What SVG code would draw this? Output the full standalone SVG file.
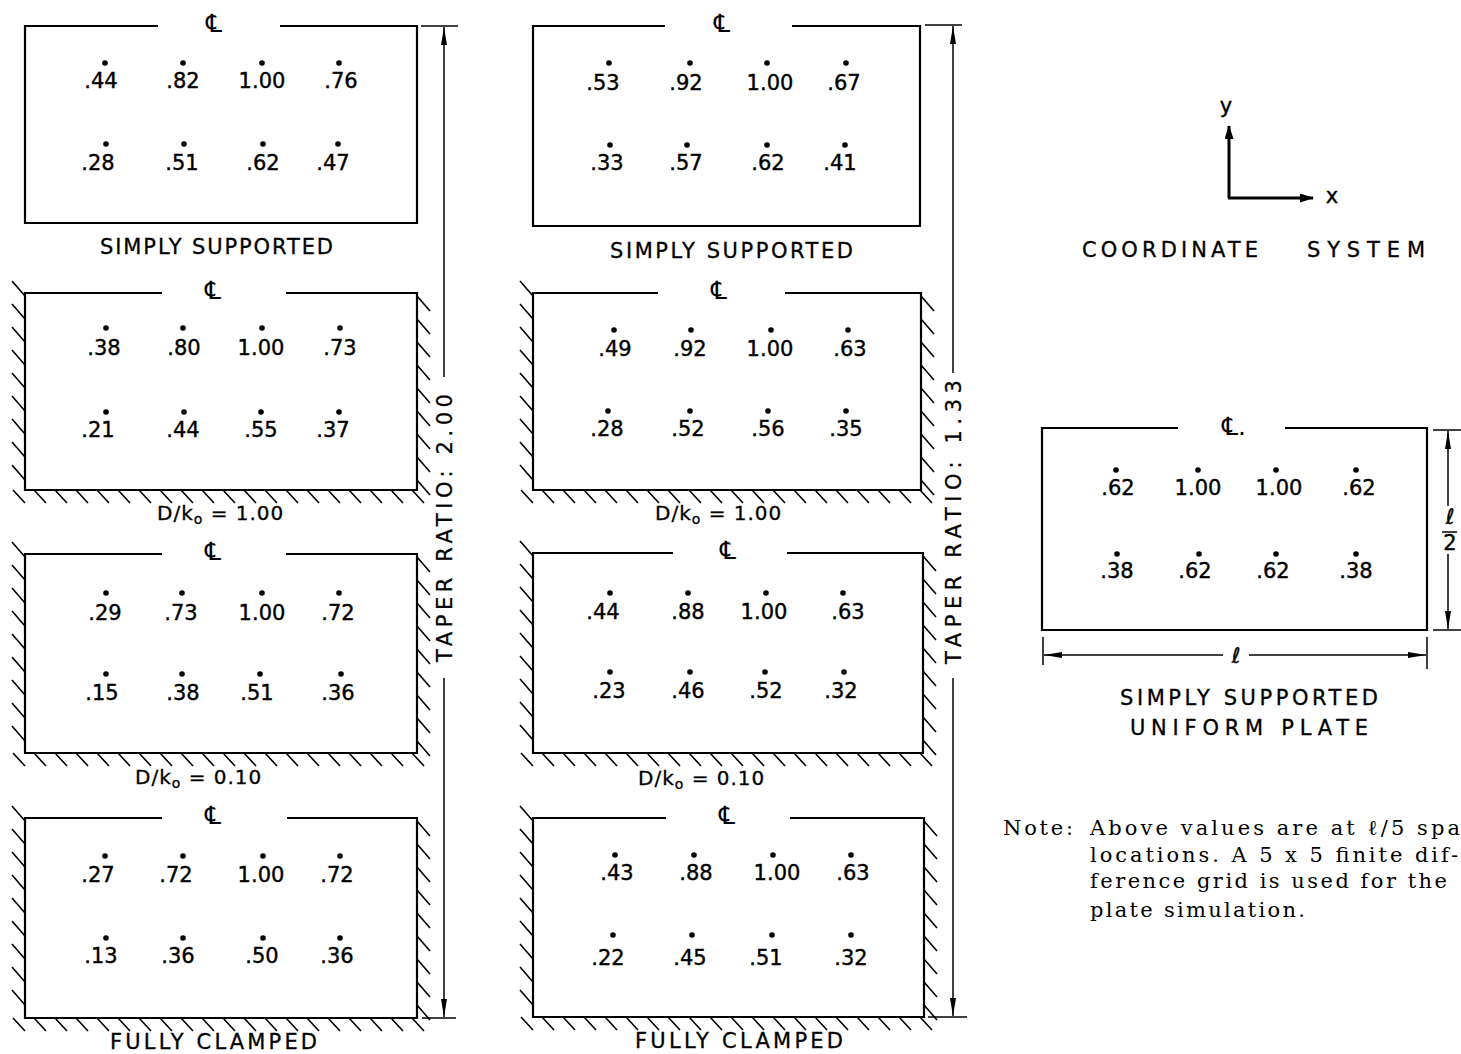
<svg xmlns="http://www.w3.org/2000/svg" xmlns:xlink="http://www.w3.org/1999/xlink" width="1461" height="1054" viewBox="0 0 1461 1054">
<style>
.fr{fill:none;stroke:#000;stroke-width:2.2;stroke-linejoin:miter}
.h{fill:none;stroke:#000;stroke-width:1.6}
.dim{fill:none;stroke:#000;stroke-width:1.5}
.ax{fill:none;stroke:#000;stroke-width:3}
.v{font-family:"DejaVu Sans","Liberation Sans",sans-serif;font-size:21px;text-anchor:middle;fill:#000;stroke:#000;stroke-width:0.4}
.cl{font-family:"DejaVu Sans","Noto Sans",sans-serif;font-size:25px;text-anchor:middle;fill:#000}
.lab{font-family:"DejaVu Sans","Liberation Sans",sans-serif;font-size:21px;fill:#000;stroke:#000;stroke-width:0.3}
.dk{font-family:"DejaVu Sans","Liberation Sans",sans-serif;font-size:20px;letter-spacing:1px;fill:#000;stroke:#000;stroke-width:0.3}
.note{font-family:"DejaVu Serif","Liberation Serif",serif;font-size:21px;fill:#000}
.d{fill:#000}
</style>
<defs>
<path id="hv" d="M0,0l13,15m-13,8l13,15m-13,8l13,15m-13,8l13,15m-13,8l13,15m-13,8l13,15m-13,8l13,15m-13,8l13,15m-13,8l13,15"/>
<path id="hb" d="M0,0l12,13m9,-13l12,13m9,-13l12,13m9,-13l12,13m9,-13l12,13m9,-13l12,13m9,-13l12,13m9,-13l12,13m9,-13l12,13m9,-13l12,13m9,-13l12,13m9,-13l12,13m9,-13l12,13m9,-13l12,13m9,-13l12,13m9,-13l12,13m9,-13l12,13m9,-13l12,13m9,-13l12,13m9,-13l12,13"/>
<marker id="ar" viewBox="0 0 18 6" refX="18" refY="3" markerWidth="18" markerHeight="6" markerUnits="userSpaceOnUse" orient="auto-start-reverse">
<path d="M0,0L18,3L0,6z" fill="#000"/>
</marker>
<marker id="ax" viewBox="0 0 14 9" refX="13" refY="4.5" markerWidth="14" markerHeight="9" markerUnits="userSpaceOnUse" orient="auto">
<path d="M0,0L14,4.5L0,9z" fill="#000"/>
</marker>
</defs>
<rect width="1461" height="1054" fill="#fff"/>

<!-- Column 1 -->
<g id="c1-p1">
<path class="fr" d="M158,26H25V223H417V26H280"/>
<text class="cl" x="214" y="32">℄</text>
<circle class="d" cx="105" cy="63" r="2.8"/><circle class="d" cx="183" cy="63" r="2.8"/><circle class="d" cx="262" cy="63" r="2.8"/><circle class="d" cx="339" cy="63" r="2.8"/>
<text class="v" x="101" y="88">.44</text><text class="v" x="183" y="88">.82</text><text class="v" x="262" y="88">1.00</text><text class="v" x="341" y="88">.76</text>
<circle class="d" cx="106" cy="144" r="2.8"/><circle class="d" cx="184" cy="144" r="2.8"/><circle class="d" cx="263" cy="144" r="2.8"/><circle class="d" cx="338" cy="144" r="2.8"/>
<text class="v" x="98" y="170">.28</text><text class="v" x="182" y="170">.51</text><text class="v" x="263" y="170">.62</text><text class="v" x="333" y="170">.47</text>
<text class="lab" x="100" y="254" textLength="233" lengthAdjust="spacing">SIMPLY SUPPORTED</text>
</g>

<g id="c1-p2">
<path class="fr" d="M162,293H25V490H417V293H286"/>
<use xlink:href="#hv" href="#hv" x="12" y="281" class="h"/>
<use xlink:href="#hv" href="#hv" x="417" y="296" class="h"/>
<use xlink:href="#hb" href="#hb" x="13" y="490" class="h"/>
<text class="cl" x="213" y="299">℄</text>
<circle class="d" cx="106" cy="328" r="2.8"/><circle class="d" cx="183" cy="328" r="2.8"/><circle class="d" cx="262" cy="328" r="2.8"/><circle class="d" cx="340" cy="328" r="2.8"/>
<text class="v" x="104" y="355">.38</text><text class="v" x="184" y="355">.80</text><text class="v" x="261" y="355">1.00</text><text class="v" x="340" y="355">.73</text>
<circle class="d" cx="106" cy="412" r="2.8"/><circle class="d" cx="184" cy="412" r="2.8"/><circle class="d" cx="261" cy="412" r="2.8"/><circle class="d" cx="339" cy="412" r="2.8"/>
<text class="v" x="98" y="437">.21</text><text class="v" x="183" y="437">.44</text><text class="v" x="261" y="437">.55</text><text class="v" x="333" y="437">.37</text>
<text class="dk" x="157" y="520">D/k<tspan dy="4" font-size="14">o</tspan><tspan dy="-4"> = 1.00</tspan></text>
</g>

<g id="c1-p3">
<path class="fr" d="M162,554H25V753H417V554H286"/>
<use xlink:href="#hv" href="#hv" x="12" y="542" class="h"/>
<use xlink:href="#hv" href="#hv" x="417" y="557" class="h"/>
<use xlink:href="#hb" href="#hb" x="13" y="753" class="h"/>
<text class="cl" x="213" y="560">℄</text>
<circle class="d" cx="106" cy="593" r="2.8"/><circle class="d" cx="182" cy="593" r="2.8"/><circle class="d" cx="262" cy="593" r="2.8"/><circle class="d" cx="339" cy="593" r="2.8"/>
<text class="v" x="105" y="620">.29</text><text class="v" x="181" y="620">.73</text><text class="v" x="262" y="620">1.00</text><text class="v" x="338" y="620">.72</text>
<circle class="d" cx="106" cy="674" r="2.8"/><circle class="d" cx="182" cy="674" r="2.8"/><circle class="d" cx="260" cy="674" r="2.8"/><circle class="d" cx="341" cy="674" r="2.8"/>
<text class="v" x="102" y="700">.15</text><text class="v" x="183" y="700">.38</text><text class="v" x="257" y="700">.51</text><text class="v" x="338" y="700">.36</text>
<text class="dk" x="135" y="784">D/k<tspan dy="4" font-size="14">o</tspan><tspan dy="-4"> = 0.10</tspan></text>
</g>

<g id="c1-p4">
<path class="fr" d="M162,818H25V1018H417V818H287"/>
<use xlink:href="#hv" href="#hv" x="12" y="806" class="h"/>
<use xlink:href="#hv" href="#hv" x="417" y="821" class="h"/>
<use xlink:href="#hb" href="#hb" x="13" y="1018" class="h"/>
<text class="cl" x="213" y="824">℄</text>
<circle class="d" cx="105" cy="856" r="2.8"/><circle class="d" cx="183" cy="856" r="2.8"/><circle class="d" cx="263" cy="856" r="2.8"/><circle class="d" cx="340" cy="856" r="2.8"/>
<text class="v" x="98" y="882">.27</text><text class="v" x="176" y="882">.72</text><text class="v" x="261" y="882">1.00</text><text class="v" x="337" y="882">.72</text>
<circle class="d" cx="106" cy="938" r="2.8"/><circle class="d" cx="183" cy="938" r="2.8"/><circle class="d" cx="263" cy="938" r="2.8"/><circle class="d" cx="340" cy="938" r="2.8"/>
<text class="v" x="101" y="963">.13</text><text class="v" x="178" y="963">.36</text><text class="v" x="262" y="963">.50</text><text class="v" x="337" y="963">.36</text>
<text class="lab" x="110" y="1049" textLength="207" lengthAdjust="spacing">FULLY CLAMPED</text>
</g>

<!-- Column 2 -->
<g id="c2-p1">
<path class="fr" d="M665,26H533V226H920V26H792"/>
<text class="cl" x="722" y="32">℄</text>
<circle class="d" cx="609" cy="63" r="2.8"/><circle class="d" cx="690" cy="63" r="2.8"/><circle class="d" cx="767" cy="63" r="2.8"/><circle class="d" cx="846" cy="63" r="2.8"/>
<text class="v" x="603" y="90">.53</text><text class="v" x="686" y="90">.92</text><text class="v" x="770" y="90">1.00</text><text class="v" x="844" y="90">.67</text>
<circle class="d" cx="610" cy="145" r="2.8"/><circle class="d" cx="687" cy="145" r="2.8"/><circle class="d" cx="767" cy="145" r="2.8"/><circle class="d" cx="845" cy="145" r="2.8"/>
<text class="v" x="607" y="170">.33</text><text class="v" x="686" y="170">.57</text><text class="v" x="768" y="170">.62</text><text class="v" x="840" y="170">.41</text>
<text class="lab" x="610" y="258" textLength="243" lengthAdjust="spacing">SIMPLY SUPPORTED</text>
</g>

<g id="c2-p2">
<path class="fr" d="M658,293H533V490H921V293H785"/>
<use xlink:href="#hv" href="#hv" x="520" y="281" class="h"/>
<use xlink:href="#hv" href="#hv" x="921" y="296" class="h"/>
<use xlink:href="#hb" href="#hb" x="521" y="490" class="h"/>
<text class="cl" x="719" y="299">℄</text>
<circle class="d" cx="614" cy="330" r="2.8"/><circle class="d" cx="691" cy="330" r="2.8"/><circle class="d" cx="771" cy="330" r="2.8"/><circle class="d" cx="848" cy="330" r="2.8"/>
<text class="v" x="615" y="356">.49</text><text class="v" x="690" y="356">.92</text><text class="v" x="770" y="356">1.00</text><text class="v" x="850" y="356">.63</text>
<circle class="d" cx="608" cy="411" r="2.8"/><circle class="d" cx="690" cy="411" r="2.8"/><circle class="d" cx="768" cy="411" r="2.8"/><circle class="d" cx="846" cy="411" r="2.8"/>
<text class="v" x="607" y="436">.28</text><text class="v" x="688" y="436">.52</text><text class="v" x="768" y="436">.56</text><text class="v" x="846" y="436">.35</text>
<text class="dk" x="655" y="520">D/k<tspan dy="4" font-size="14">o</tspan><tspan dy="-4"> = 1.00</tspan></text>
</g>

<g id="c2-p3">
<path class="fr" d="M673,553H533V753H923V553H787"/>
<use xlink:href="#hv" href="#hv" x="520" y="541" class="h"/>
<use xlink:href="#hv" href="#hv" x="923" y="556" class="h"/>
<use xlink:href="#hb" href="#hb" x="521" y="753" class="h"/>
<text class="cl" x="728" y="559">℄</text>
<circle class="d" cx="610" cy="593" r="2.8"/><circle class="d" cx="688" cy="593" r="2.8"/><circle class="d" cx="766" cy="593" r="2.8"/><circle class="d" cx="843" cy="593" r="2.8"/>
<text class="v" x="603" y="619">.44</text><text class="v" x="688" y="619">.88</text><text class="v" x="764" y="619">1.00</text><text class="v" x="848" y="619">.63</text>
<circle class="d" cx="610" cy="672" r="2.8"/><circle class="d" cx="690" cy="672" r="2.8"/><circle class="d" cx="765" cy="672" r="2.8"/><circle class="d" cx="844" cy="672" r="2.8"/>
<text class="v" x="609" y="698">.23</text><text class="v" x="688" y="698">.46</text><text class="v" x="766" y="698">.52</text><text class="v" x="841" y="698">.32</text>
<text class="dk" x="638" y="785">D/k<tspan dy="4" font-size="14">o</tspan><tspan dy="-4"> = 0.10</tspan></text>
</g>

<g id="c2-p4">
<path class="fr" d="M666,818H533V1017H924V818H790"/>
<use xlink:href="#hv" href="#hv" x="520" y="806" class="h"/>
<use xlink:href="#hv" href="#hv" x="924" y="821" class="h"/>
<use xlink:href="#hb" href="#hb" x="521" y="1017" class="h"/>
<text class="cl" x="727" y="824">℄</text>
<circle class="d" cx="615" cy="855" r="2.8"/><circle class="d" cx="694" cy="855" r="2.8"/><circle class="d" cx="773" cy="855" r="2.8"/><circle class="d" cx="851" cy="855" r="2.8"/>
<text class="v" x="617" y="880">.43</text><text class="v" x="696" y="880">.88</text><text class="v" x="777" y="880">1.00</text><text class="v" x="853" y="880">.63</text>
<circle class="d" cx="613" cy="935" r="2.8"/><circle class="d" cx="692" cy="935" r="2.8"/><circle class="d" cx="772" cy="935" r="2.8"/><circle class="d" cx="851" cy="935" r="2.8"/>
<text class="v" x="608" y="965">.22</text><text class="v" x="690" y="965">.45</text><text class="v" x="766" y="965">.51</text><text class="v" x="851" y="965">.32</text>
<text class="lab" x="635" y="1048" textLength="208" lengthAdjust="spacing">FULLY CLAMPED</text>
</g>

<!-- Taper ratio labels -->
<g id="taper1">
<text class="lab" font-size="22" transform="translate(452,662) rotate(-90)" textLength="268" lengthAdjust="spacing">TAPER RATIO: 2.00</text>
</g>
<g id="taper2">
<text class="lab" font-size="22" transform="translate(961,664) rotate(-90)" textLength="284" lengthAdjust="spacing">TAPER RATIO: 1.33</text>
</g>

<!-- Coordinate system -->
<g id="coords">
<text class="v" x="1226" y="113">y</text>
<text class="v" x="1332" y="203">x</text>
<text class="lab" font-size="22" y="257"><tspan x="1082" textLength="176" lengthAdjust="spacing">COORDINATE</tspan><tspan x="1307" textLength="118" lengthAdjust="spacing">SYSTEM</tspan></text>
</g>

<!-- Uniform plate -->
<g id="uniform-plate">
<path class="fr" d="M1178,428H1042V630H1427V428H1285"/>
<text class="cl" x="1222" y="435" style="text-anchor:start">℄.</text>
<circle class="d" cx="1116" cy="470" r="2.8"/><circle class="d" cx="1198" cy="470" r="2.8"/><circle class="d" cx="1276" cy="470" r="2.8"/><circle class="d" cx="1356" cy="470" r="2.8"/>
<text class="v" x="1118" y="495">.62</text><text class="v" x="1198" y="495">1.00</text><text class="v" x="1279" y="495">1.00</text><text class="v" x="1359" y="495">.62</text>
<circle class="d" cx="1117" cy="554" r="2.8"/><circle class="d" cx="1199" cy="554" r="2.8"/><circle class="d" cx="1276" cy="554" r="2.8"/><circle class="d" cx="1356" cy="554" r="2.8"/>
<text class="v" x="1117" y="578">.38</text><text class="v" x="1195" y="578">.62</text><text class="v" x="1273" y="578">.62</text><text class="v" x="1356" y="578">.38</text>
<text class="v" x="1450" y="524" font-size="17">ℓ</text>
<line class="dim" x1="1442" y1="532" x2="1457" y2="532"/>
<text class="v" x="1450" y="550" font-size="15">2</text>
<text class="v" x="1236" y="663">ℓ</text>
<text class="lab" font-size="22" x="1120" y="705" textLength="258" lengthAdjust="spacing">SIMPLY SUPPORTED</text>
<text class="lab" font-size="22" x="1130" y="735" textLength="238" lengthAdjust="spacing">UNIFORM PLATE</text>
</g>

<!-- Note -->
<g id="note">
<text class="note" x="1003" y="835" textLength="70" lengthAdjust="spacing">Note:</text>
<text class="note" x="1090" y="835" textLength="370" lengthAdjust="spacing">Above values are at ℓ/5 spa</text>
<text class="note" x="1090" y="862" textLength="368" lengthAdjust="spacing">locations.  A 5 x 5 finite dif-</text>
<text class="note" x="1090" y="888" textLength="357" lengthAdjust="spacing">ference grid is used for the</text>
<text class="note" x="1090" y="917" textLength="215" lengthAdjust="spacing">plate simulation.</text>
</g>

<!-- Connectors: dimension lines and axes -->
<g id="connectors">
<line class="dim" x1="421" y1="26" x2="458" y2="26"/>
<line class="dim" x1="422" y1="1018" x2="456" y2="1018"/>
<line class="dim" x1="444" y1="377" x2="444" y2="27" marker-end="url(#ar)"/>
<line class="dim" x1="444" y1="678" x2="444" y2="1017" marker-end="url(#ar)"/>
<line class="dim" x1="925" y1="25" x2="962" y2="25"/>
<line class="dim" x1="928" y1="1017" x2="967" y2="1017"/>
<line class="dim" x1="953" y1="373" x2="953" y2="26" marker-end="url(#ar)"/>
<line class="dim" x1="953" y1="678" x2="953" y2="1016" marker-end="url(#ar)"/>
<line class="ax" x1="1229" y1="198" x2="1229" y2="126" marker-end="url(#ax)"/>
<line class="ax" x1="1228" y1="198" x2="1313" y2="198" marker-end="url(#ax)"/>
<line class="dim" x1="1433" y1="430" x2="1461" y2="430"/>
<line class="dim" x1="1433" y1="630" x2="1461" y2="630"/>
<line class="dim" x1="1448" y1="506" x2="1448" y2="431" marker-end="url(#ar)"/>
<line class="dim" x1="1448" y1="554" x2="1448" y2="629" marker-end="url(#ar)"/>
<line class="dim" x1="1043" y1="637" x2="1043" y2="665"/>
<line class="dim" x1="1427" y1="637" x2="1427" y2="669"/>
<line class="dim" x1="1223" y1="655" x2="1044" y2="655" marker-end="url(#ar)"/>
<line class="dim" x1="1249" y1="655" x2="1426" y2="655" marker-end="url(#ar)"/>
</g>
</svg>
